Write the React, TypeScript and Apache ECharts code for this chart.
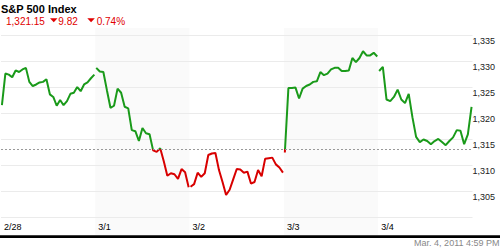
import React, { useEffect, useRef } from "react";
import * as echarts from "echarts";

const dates = ["2/28", "3/1", "3/2", "3/3", "3/4"];

const day0 = [1321.6, 1327.7, 1327.5, 1327.0, 1328.3, 1328.0, 1328.5, 1328.8, 1326.1, 1325.3, 1325.6, 1326.0, 1326.1, 1326.6, 1323.7, 1323.2, 1321.5, 1322.6, 1321.6, 1322.4, 1323.8, 1324.0, 1325.1, 1324.3, 1325.6, 1326.0, 1326.8, 1327.5];
const day1 = [1328.8, 1328.1, 1328.0, 1324.5, 1321.1, 1321.5, 1324.8, 1324.0, 1321.3, 1321.0, 1316.8, 1316.6, 1314.7, 1317.2, 1316.2, 1316.0, 1312.9, 1312.6, 1313.3, 1310.8, 1308.0, 1308.5, 1308.3, 1307.4, 1309.3, 1308.7, 1305.8];
const day2 = [1305.9, 1306.4, 1308.6, 1307.8, 1308.5, 1312.0, 1312.3, 1312.4, 1309.1, 1306.8, 1304.3, 1305.3, 1307.3, 1309.3, 1309.2, 1308.6, 1308.8, 1306.5, 1306.8, 1309.1, 1307.9, 1311.3, 1311.4, 1311.5, 1310.2, 1309.6, 1308.6];
const day3 = [1312.5, 1324.9, 1324.9, 1325.0, 1322.9, 1324.8, 1325.3, 1325.6, 1326.1, 1326.2, 1328.0, 1327.4, 1327.7, 1328.5, 1328.8, 1328.8, 1328.2, 1328.2, 1328.3, 1330.7, 1329.9, 1330.7, 1332.0, 1331.2, 1331.2, 1331.7, 1331.0];
const day4 = [1328.2, 1329.0, 1322.7, 1322.4, 1323.2, 1324.6, 1322.7, 1322.0, 1323.8, 1319.3, 1315.5, 1314.5, 1315.0, 1314.7, 1314.1, 1314.7, 1315.1, 1314.5, 1313.9, 1314.7, 1315.4, 1316.8, 1316.7, 1314.1, 1316.0, 1321.3];
const days = [day0, day1, day2, day3, day4];

const refLevel = 1313.1;
const yMin = 1300;
const yMax = 1335;
const yStep = 5;

const title = "S&P 500 Index";
const lastPrice = "1,321.15";
const change = "9.82";
const changePct = "0.74%";
const timestamp = "Mar. 4, 2011 4:59 PM";

const GREEN = "#1a9a1a";
const RED = "#d80000";
const FONT = '"Liberation Sans", Arial, sans-serif';

export default function App() {
  const ref = useRef<HTMLDivElement>(null);
  useEffect(() => {
    if (!ref.current) return;
    const chart = echarts.init(ref.current, null, { renderer: "svg" });
    const lineSeries: any[] = days.map((vals, d) => {
      const s: any = {
        type: "line",
        xAxisIndex: 1,
        yAxisIndex: 1,
        showSymbol: false,
        symbol: "none",
        lineStyle: { width: 2 },
        data: vals.map((v, i) => [d + 0.01 + (0.98 * i) / (vals.length - 1), v]),
        z: 3,
      };
      if (d === 0) {
        s.markLine = {
          silent: true,
          symbol: "none",
          label: { show: false },
          lineStyle: { color: "#999", type: [2, 2], width: 1 },
          data: [{ yAxis: refLevel }],
        };
      }
      return s;
    });
    chart.setOption({
      animation: false,
      backgroundColor: "#ffffff",
      grid: [
        { left: 1, right: 27.5, top: 28, height: 207 },
        { left: 1, right: 27.5, top: 35.7, height: 181.6 },
      ],
      xAxis: [
        {
          gridIndex: 0,
          type: "value",
          min: 0,
          max: 5,
          interval: 1,
          z: -1,
          axisLine: { show: false },
          axisTick: { show: false },
          splitLine: { show: false },
          splitArea: { show: true, areaStyle: { color: ["#ffffff", "#fafafa"], opacity: 1 } },
          axisLabel: {
            inside: true,
            align: "left",
            margin: 4,
            padding: [0, 0, 0, 3],
            fontSize: 9,
            fontFamily: FONT,
            color: "#000",
            showMaxLabel: false,
            formatter: (v: number) => dates[Math.round(v)] ?? "",
          },
        },
        { gridIndex: 1, type: "value", min: 0, max: 5, show: false },
      ],
      yAxis: [
        { gridIndex: 0, type: "value", min: 0, max: 1, show: false },
        {
          gridIndex: 1,
          type: "value",
          min: yMin,
          max: yMax,
          interval: yStep,
          position: "right",
          axisLine: { show: false },
          axisTick: { show: false },
          splitLine: { lineStyle: { color: "#ebebeb", width: 1 } },
          axisLabel: {
            showMinLabel: false,
            margin: 0,
            align: "left",
            verticalAlign: "top",
            padding: [1, 0, 0, 0],
            fontSize: 9,
            fontFamily: FONT,
            color: "#222",
            formatter: (v: number) => v.toLocaleString("en-US"),
          },
        },
      ],
      visualMap: {
        type: "piecewise",
        show: false,
        dimension: 1,
        seriesIndex: [0, 1, 2, 3, 4],
        pieces: [
          { gte: 1200, lt: refLevel, color: RED },
          { gte: refLevel, lte: 1400, color: GREEN },
        ],
      },
      graphic: [
        {
          type: "text",
          x: 1,
          y: 8.5,
          style: { text: title, font: `bold 11px ${FONT}`, fill: "#000", align: "left", verticalAlign: "middle", textAlign: "left", textVerticalAlign: "middle" },
        },
        {
          type: "text",
          x: 6,
          y: 21,
          style: { text: lastPrice, font: `10px ${FONT}`, fill: "#e00000", align: "left", verticalAlign: "middle", textAlign: "left", textVerticalAlign: "middle" },
        },
        {
          type: "polygon",
          shape: { points: [[50, 18.3], [57.5, 18.3], [53.75, 22.3]] },
          style: { fill: "#e00000" },
        },
        {
          type: "text",
          x: 58.3,
          y: 21,
          style: { text: change, font: `10px ${FONT}`, fill: "#e00000", align: "left", verticalAlign: "middle", textAlign: "left", textVerticalAlign: "middle" },
        },
        {
          type: "polygon",
          shape: { points: [[87.3, 18.3], [94.8, 18.3], [91.05, 22.3]] },
          style: { fill: "#e00000" },
        },
        {
          type: "text",
          x: 96.7,
          y: 21,
          style: { text: changePct, font: `10px ${FONT}`, fill: "#e00000", align: "left", verticalAlign: "middle", textAlign: "left", textVerticalAlign: "middle" },
        },
        {
          type: "rect",
          shape: { x: 0, y: 235.3, width: 500, height: 2.7 },
          style: { fill: "#000" },
        },
        {
          type: "text",
          x: 499.5,
          y: 243,
          style: { text: timestamp, font: `9px ${FONT}`, fill: "#888", align: "right", verticalAlign: "middle", textAlign: "right", textVerticalAlign: "middle" },
        },
      ],
      series: lineSeries,
    });
    return () => chart.dispose();
  }, []);
  return (
    <div
      ref={ref}
      style={{ position: "fixed", left: 0, top: 0, width: 500, height: 250 }}
    />
  );
}
